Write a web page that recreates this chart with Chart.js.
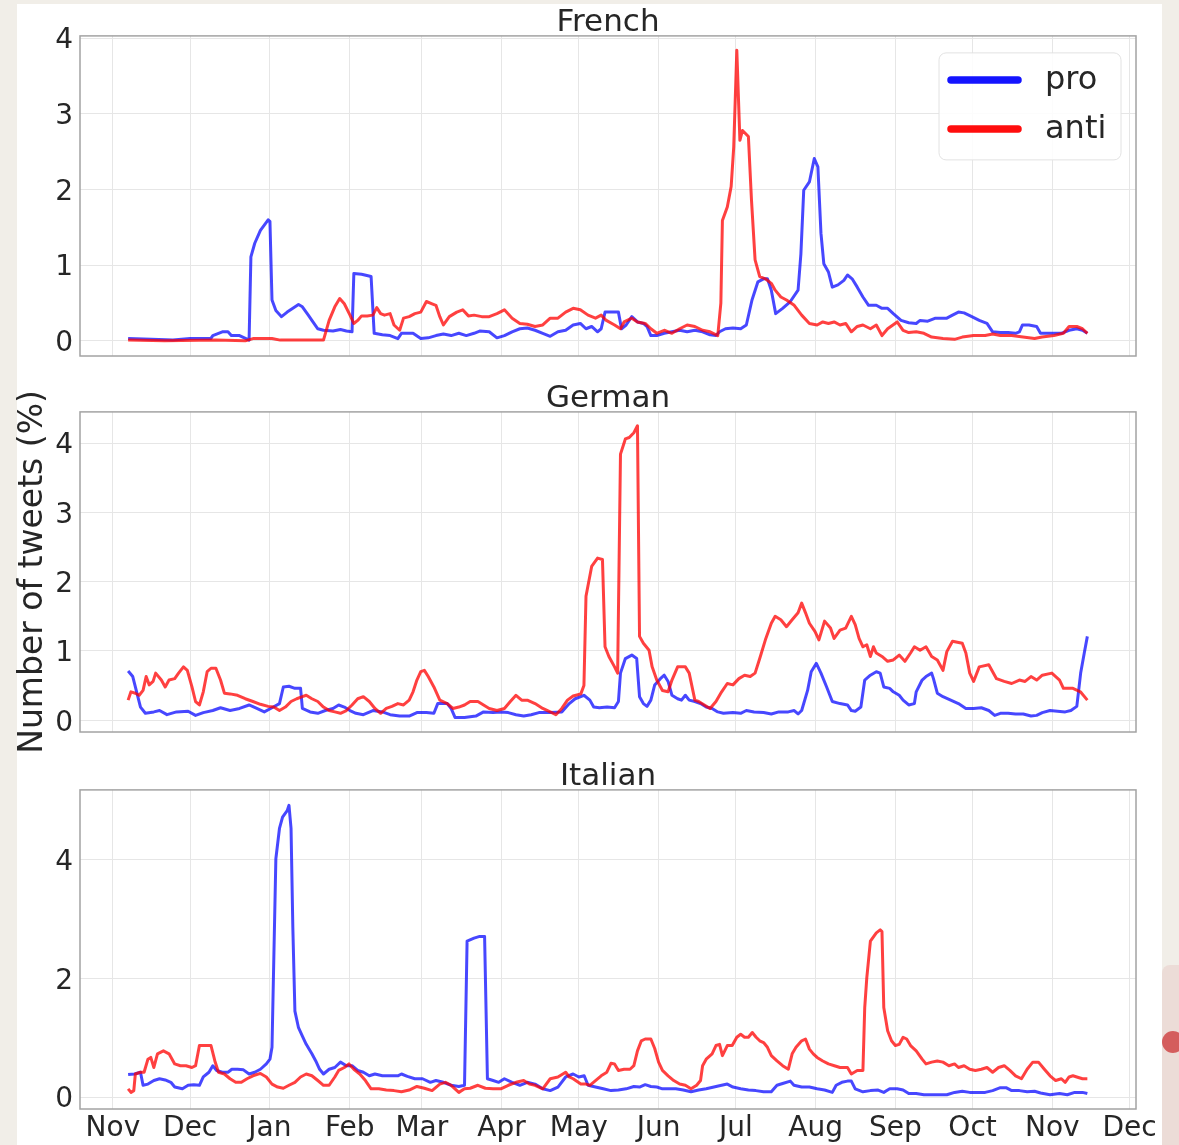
<!DOCTYPE html>
<html>
<head>
<meta charset="utf-8">
<script src="https://cdn.jsdelivr.net/npm/chart.js@4.4.1/dist/chart.umd.min.js"></script>
<style>
html,body{margin:0;padding:0;background:#f1eee8;}
#page{position:relative;width:1179px;height:1145px;overflow:hidden;background:#f1eee8;}
#panel{position:absolute;left:17px;top:4px;width:1145px;height:1141px;background:#ffffff;}
#deco{position:absolute;left:1162px;top:965px;width:17px;height:180px;background:#ecdcd7;border-top-left-radius:8px;}
#dot{position:absolute;left:1162px;top:1031px;width:22px;height:22px;border-radius:50%;background:#d45d5d;}
canvas{position:absolute;left:0;}
</style>
</head>
<body>
<div id="page">
  <div id="panel"></div>
  <div id="deco"></div>
  <div id="dot"></div>
  <canvas id="cFrench" width="1179" height="380" style="top:0px"></canvas>
  <canvas id="cGerman" width="1179" height="380" style="top:376px"></canvas>
  <canvas id="cItalian" width="1179" height="391" style="top:754px"></canvas>
</div>
<script>
// ---------------- DATA ----------------
// x values: days since 2020-11-01
const monthLabels = ['Nov','Dec','Jan','Feb','Mar','Apr','May','Jun','Jul','Aug','Sep','Oct','Nov','Dec'];
const monthStartDays = [0,30,61,92,120,151,181,212,242,273,304,334,365,395];
const seriesLabels = ['pro','anti'];
const panelTitles = ['French','German','Italian'];
const yAxisLabel = 'Number of tweets (%)';
const frenchTicks = [0,1,2,3,4];
const germanTicks = [0,1,2,3,4];
const italianTicks = [0,2,4];

const frenchPro = [[5.9,0.03],[15,0.02],[23.3,0.01],[30,0.03],[38,0.03],[38.8,0.07],[42.5,0.12],[44.7,0.12],[46,0.07],[49.2,0.07],[52.9,0.01],[53.6,1.11],[55.1,1.29],[57.3,1.46],[60.3,1.6],[61,1.58],[61.8,0.54],[63.3,0.4],[65.5,0.32],[67.7,0.38],[69.9,0.43],[72.1,0.48],[73.6,0.45],[75.9,0.34],[77.3,0.27],[79.6,0.16],[81.8,0.14],[85.5,0.13],[88.4,0.15],[90.7,0.13],[92.9,0.12],[93.6,0.89],[96.6,0.88],[100.3,0.85],[101.5,0.1],[104.7,0.08],[107.7,0.07],[110.7,0.03],[112.1,0.1],[116.6,0.1],[119.6,0.03],[122.5,0.04],[125.5,0.07],[128.4,0.09],[131.4,0.07],[134.4,0.1],[137.3,0.07],[140.3,0.1],[142.5,0.13],[146.2,0.12],[149.2,0.04],[152.1,0.07],[155.1,0.12],[158.1,0.16],[161,0.17],[164,0.14],[167,0.1],[169.9,0.06],[172.9,0.12],[175.9,0.14],[178.8,0.21],[181.6,0.23],[183.8,0.16],[186,0.19],[188.3,0.12],[189.7,0.16],[191.2,0.38],[196.4,0.38],[197.6,0.16],[199.4,0.21],[201.6,0.32],[203.8,0.25],[206.1,0.23],[207.5,0.19],[209,0.07],[211.3,0.07],[214.2,0.1],[217.2,0.12],[220.2,0.14],[223.1,0.12],[226.1,0.14],[229.1,0.12],[232,0.08],[234.3,0.07],[235.7,0.12],[238,0.16],[240.9,0.17],[243.9,0.16],[246.1,0.21],[248.3,0.54],[250.6,0.78],[252.8,0.82],[254.3,0.82],[255.8,0.67],[257.5,0.36],[260.2,0.43],[263.2,0.52],[266.2,0.67],[267.3,1.15],[268.4,1.99],[270.6,2.1],[272.5,2.41],[273.9,2.3],[275.1,1.42],[276.2,1.02],[278,0.91],[279.5,0.71],[281.7,0.74],[284,0.8],[285.4,0.87],[287.2,0.82],[289.2,0.71],[291.4,0.58],[293.6,0.47],[296.6,0.47],[298.8,0.43],[301,0.43],[303.2,0.36],[306.2,0.27],[309.2,0.24],[312.1,0.23],[313.6,0.27],[316.6,0.26],[319.6,0.3],[324,0.3],[326.2,0.34],[328.5,0.38],[330.7,0.37],[333.7,0.32],[336.6,0.27],[339.6,0.23],[341.8,0.12],[344.8,0.11],[347.8,0.11],[350.7,0.1],[352.2,0.12],[353.4,0.21],[355.9,0.21],[358.9,0.19],[360.4,0.1],[364.1,0.1],[368.5,0.1],[371.5,0.14],[374.5,0.16],[376.7,0.14],[378.6,0.1]];

const frenchAnti = [[5.9,0.01],[20,0.0],[40,0.01],[51.4,0.0],[54.4,0.03],[61.8,0.03],[65,0.01],[81.8,0.01],[84,0.27],[86.2,0.45],[88.1,0.56],[89.9,0.49],[92.1,0.34],[93.6,0.23],[95.1,0.27],[96.6,0.33],[98.8,0.33],[101,0.34],[102.5,0.44],[104,0.36],[105.5,0.34],[107.7,0.36],[109.2,0.21],[111.4,0.14],[112.9,0.3],[115.1,0.32],[117.3,0.36],[119.6,0.38],[121.8,0.52],[124,0.49],[125.5,0.47],[127,0.32],[128.4,0.21],[130.7,0.32],[133.6,0.38],[135.9,0.41],[138.1,0.33],[140.3,0.34],[143.3,0.32],[146.2,0.32],[149.2,0.36],[152.1,0.41],[155.1,0.3],[158.1,0.23],[161,0.22],[164,0.19],[167,0.21],[169.9,0.3],[172.9,0.3],[175.9,0.38],[178.8,0.43],[181.6,0.41],[184.6,0.34],[187.5,0.3],[189.7,0.34],[191.7,0.27],[194.9,0.21],[197.2,0.16],[198.6,0.25],[201.6,0.3],[203.8,0.25],[206.8,0.23],[209,0.16],[211.3,0.1],[214.2,0.14],[217.2,0.1],[220.2,0.16],[223.1,0.21],[226.1,0.19],[229.1,0.14],[232,0.12],[235,0.07],[236.2,0.5],[236.8,1.59],[238.7,1.77],[240.2,2.04],[241.2,2.56],[242.4,3.84],[243.6,2.65],[244.6,2.78],[246.9,2.7],[248.1,1.86],[249.5,1.07],[251.3,0.85],[253.5,0.82],[255.8,0.76],[257.3,0.67],[259.5,0.58],[261.7,0.54],[264.7,0.47],[267.6,0.34],[270.6,0.23],[273.6,0.21],[275.8,0.25],[278,0.23],[280.2,0.25],[282.5,0.21],[284.7,0.23],[286.9,0.12],[289.2,0.19],[291.4,0.21],[294.3,0.16],[296.6,0.21],[298.8,0.07],[301,0.16],[304.7,0.25],[307,0.14],[309.2,0.11],[312.1,0.12],[315.1,0.1],[318.1,0.05],[322.5,0.03],[327,0.02],[330,0.05],[334.4,0.07],[338.9,0.07],[341.8,0.09],[344.8,0.07],[349.2,0.07],[353.6,0.05],[358.1,0.03],[361,0.05],[365.6,0.07],[369.3,0.1],[371.5,0.19],[374.5,0.19],[376.7,0.16],[378.6,0.1]];

const germanPro = [[5.9,0.71],[7.7,0.63],[9.2,0.41],[10.7,0.19],[12.6,0.1],[15.9,0.12],[18.1,0.14],[21,0.08],[24.7,0.12],[29.2,0.13],[32.1,0.07],[35.1,0.11],[38.8,0.14],[41.8,0.18],[45.5,0.14],[49.2,0.17],[52.9,0.22],[55.9,0.17],[58.8,0.12],[61.8,0.18],[64.7,0.24],[66.2,0.48],[68.4,0.49],[70.7,0.46],[72.9,0.46],[73.6,0.17],[76.6,0.12],[79.6,0.1],[82.5,0.14],[85.5,0.17],[87.7,0.22],[89.9,0.19],[92.1,0.14],[94.4,0.1],[97.3,0.08],[101,0.14],[104.7,0.12],[107.7,0.08],[111.4,0.06],[115.1,0.06],[118.1,0.11],[121.8,0.11],[124.7,0.1],[126.2,0.24],[129.9,0.24],[131.4,0.17],[132.9,0.04],[136.6,0.04],[141,0.06],[144,0.12],[147.7,0.11],[150.7,0.12],[153.6,0.11],[156.6,0.08],[159.6,0.06],[162.5,0.08],[165.5,0.11],[169.9,0.11],[174.4,0.12],[177.3,0.24],[179.6,0.31],[183,0.36],[185.3,0.29],[186.8,0.19],[189,0.18],[192,0.19],[194.9,0.18],[196.4,0.27],[197.2,0.68],[199.1,0.89],[201.6,0.94],[203.5,0.89],[204.6,0.34],[206.1,0.24],[207.5,0.2],[209,0.29],[210.5,0.51],[212.7,0.6],[214.2,0.65],[215.7,0.56],[217.2,0.36],[219.4,0.31],[220.9,0.29],[222.4,0.36],[223.9,0.29],[226.1,0.27],[228.3,0.24],[230.5,0.19],[232.8,0.17],[235,0.12],[237.2,0.1],[240.9,0.11],[243.9,0.1],[246.1,0.14],[249.1,0.12],[252.8,0.11],[255.8,0.09],[258.7,0.12],[262.4,0.12],[264.7,0.14],[266.2,0.09],[267.6,0.14],[269.9,0.43],[271.3,0.7],[273.3,0.82],[275.1,0.68],[277.3,0.48],[279.5,0.27],[282.5,0.24],[285.4,0.22],[286.9,0.14],[288.4,0.13],[290.6,0.19],[292.1,0.58],[294.3,0.65],[296.6,0.7],[298.1,0.68],[299.5,0.48],[301.8,0.46],[303.2,0.41],[305.5,0.36],[307,0.29],[309.2,0.22],[311.4,0.24],[312.1,0.41],[314.4,0.58],[315.9,0.63],[318.1,0.68],[318.8,0.6],[320.3,0.39],[322.5,0.34],[325.5,0.29],[328.5,0.24],[331.4,0.17],[334.4,0.17],[337.4,0.18],[340.3,0.14],[342.6,0.07],[344.8,0.1],[347.8,0.1],[350.7,0.09],[353.7,0.09],[356.7,0.06],[358.9,0.07],[361.1,0.11],[364.1,0.14],[367,0.13],[370,0.12],[372.2,0.14],[374.5,0.2],[376,0.68],[377.4,0.97],[378.6,1.21]];

const germanAnti = [[5.9,0.29],[7,0.41],[8.7,0.39],[10.2,0.36],[11.7,0.43],[12.9,0.63],[14.1,0.51],[15.6,0.56],[16.6,0.68],[18.8,0.58],[20.3,0.48],[21.8,0.58],[24,0.6],[25.5,0.68],[27.4,0.77],[28.9,0.72],[30.7,0.48],[32.1,0.27],[33.6,0.22],[35.1,0.41],[36.6,0.7],[38.1,0.75],[40,0.75],[41.8,0.58],[43.3,0.39],[45.5,0.38],[48.4,0.36],[51.4,0.31],[54.4,0.27],[57.3,0.23],[60.3,0.2],[62.5,0.19],[64.7,0.14],[67,0.19],[69.2,0.27],[71.4,0.31],[73.6,0.34],[75.1,0.36],[77.3,0.31],[79.6,0.27],[81.8,0.19],[84,0.14],[86.2,0.12],[88.4,0.1],[90.7,0.14],[92.9,0.22],[95.1,0.31],[97.3,0.34],[99.6,0.27],[101.8,0.17],[104,0.1],[106.2,0.17],[108.4,0.2],[110.7,0.24],[112.9,0.22],[115.1,0.29],[116.6,0.41],[118.1,0.58],[119.6,0.7],[121,0.72],[122.5,0.63],[124.7,0.48],[127,0.29],[129.9,0.24],[132.1,0.17],[134.4,0.19],[136.6,0.22],[138.8,0.27],[141.8,0.27],[144,0.22],[146.2,0.17],[149.2,0.14],[152.1,0.17],[154.4,0.27],[156.6,0.36],[158.8,0.29],[161,0.29],[164,0.24],[167,0.17],[169.9,0.12],[172.1,0.08],[174.4,0.17],[176.6,0.29],[178.8,0.35],[181.8,0.38],[183,0.5],[183.8,1.79],[186,2.22],[188.3,2.34],[190.2,2.32],[191.2,1.06],[192.7,0.92],[194.9,0.77],[196.1,0.68],[197.2,3.84],[199.1,4.06],[200.6,4.08],[202.4,4.15],[203.8,4.25],[204.6,1.21],[206.1,1.11],[208.3,1.01],[209.5,0.77],[211.3,0.58],[213.5,0.43],[215.7,0.41],[217.2,0.58],[219.4,0.77],[222.4,0.77],[223.9,0.68],[226.1,0.29],[227.6,0.27],[229.8,0.22],[232,0.17],[234.3,0.27],[236.5,0.41],[238.7,0.53],[240.9,0.51],[243.2,0.6],[245.4,0.65],[247.6,0.63],[249.5,0.68],[251.3,0.89],[253.5,1.16],[255.8,1.4],[257.3,1.5],[259.5,1.45],[261.7,1.35],[263.9,1.45],[266.2,1.55],[267.6,1.69],[269.1,1.55],[270.6,1.4],[272.8,1.28],[274.3,1.16],[276.5,1.43],[278.8,1.33],[280.2,1.18],[282.5,1.3],[284.7,1.33],[286.9,1.5],[288.4,1.38],[289.9,1.18],[291.4,1.06],[292.9,1.09],[294.3,0.92],[295.5,1.06],[296.6,0.97],[298.8,0.92],[301,0.85],[303.2,0.87],[305.5,0.94],[307.7,0.85],[309.9,0.97],[311.4,1.06],[313.6,1.01],[315.9,1.06],[318.1,0.92],[320.3,0.87],[322.5,0.72],[324,0.99],[326.2,1.14],[330,1.11],[331.4,0.97],[332.9,0.68],[334.4,0.56],[336.6,0.77],[340.3,0.8],[343.3,0.6],[346.3,0.56],[349.2,0.53],[352.2,0.58],[354.4,0.56],[356.7,0.63],[358.9,0.58],[361.1,0.65],[364.8,0.68],[367.8,0.58],[369.3,0.46],[373,0.46],[375.9,0.41],[378.6,0.29]];

const italianPro = [[5.9,0.38],[8.4,0.39],[10.7,0.42],[11.7,0.2],[13.6,0.22],[15.9,0.28],[18.1,0.31],[20.3,0.29],[22.5,0.25],[24,0.17],[27,0.14],[29.2,0.2],[31.4,0.21],[33.6,0.2],[35.1,0.34],[37.3,0.42],[38.8,0.53],[40.3,0.45],[42.5,0.42],[44.7,0.42],[46.2,0.47],[48.4,0.47],[50.7,0.46],[52.9,0.39],[55.1,0.42],[57.3,0.47],[59.6,0.56],[61,0.64],[61.8,0.84],[63.3,4.02],[64.7,4.53],[65.9,4.72],[67.7,4.83],[68.4,4.92],[69.2,4.53],[69.9,2.85],[70.7,1.45],[72.1,1.17],[73.6,1.03],[75.1,0.89],[77.3,0.73],[78.8,0.61],[80.3,0.47],[81.8,0.39],[84,0.47],[86.2,0.5],[88.4,0.59],[90.7,0.53],[92.9,0.53],[95.1,0.45],[97.3,0.42],[99.6,0.36],[101.8,0.39],[104.7,0.36],[107.7,0.36],[110.7,0.36],[112.1,0.39],[114.4,0.35],[117.3,0.31],[120.3,0.31],[123.3,0.25],[125.5,0.28],[128.4,0.25],[131.4,0.2],[134.4,0.18],[136.6,0.2],[137.6,2.63],[140.3,2.68],[142.5,2.71],[144.4,2.71],[145.5,0.31],[147.7,0.28],[149.9,0.25],[152.1,0.31],[155.1,0.25],[158.1,0.2],[161,0.25],[164,0.22],[167,0.14],[169.9,0.11],[172.9,0.17],[175.9,0.34],[178.8,0.39],[181,0.34],[183.1,0.36],[184.6,0.2],[187.5,0.17],[190.5,0.14],[193.5,0.11],[196.4,0.12],[199.4,0.14],[202.4,0.18],[204.6,0.17],[206.8,0.21],[209,0.18],[211.3,0.17],[213.5,0.14],[215.7,0.14],[218.7,0.14],[221.6,0.12],[224.6,0.09],[227.6,0.12],[230.5,0.14],[233.5,0.17],[236.5,0.2],[238.7,0.22],[240.9,0.17],[243.9,0.14],[246.9,0.12],[249.8,0.11],[252.8,0.09],[255.8,0.09],[258,0.2],[260.2,0.23],[263.2,0.27],[264.6,0.2],[267.6,0.17],[270.6,0.17],[273.6,0.14],[276.5,0.12],[279.5,0.08],[281,0.2],[283.2,0.25],[285.4,0.27],[286.9,0.27],[288.4,0.14],[291.4,0.09],[294.3,0.11],[297.3,0.12],[299.5,0.08],[301.8,0.14],[304.7,0.14],[307,0.12],[309.2,0.06],[312.1,0.06],[315.1,0.04],[318.1,0.04],[321.1,0.04],[324,0.04],[327,0.08],[330,0.1],[332.9,0.08],[335.9,0.08],[338.9,0.08],[341.8,0.11],[344.8,0.16],[347,0.16],[349.2,0.11],[352.2,0.11],[355.2,0.09],[358.1,0.1],[360.4,0.07],[364.1,0.04],[367.8,0.06],[370.8,0.04],[373.7,0.08],[376.7,0.08],[378.6,0.06]];

const italianAnti = [[5.9,0.14],[7,0.08],[8.1,0.11],[8.7,0.39],[10.7,0.42],[12.1,0.42],[13.6,0.64],[14.7,0.67],[15.9,0.5],[17.3,0.73],[19.6,0.78],[21.8,0.73],[24,0.56],[26.2,0.53],[28.4,0.53],[30.7,0.5],[32.1,0.53],[33.6,0.87],[35.9,0.87],[38.1,0.87],[39.6,0.61],[41,0.42],[43.3,0.39],[45.5,0.31],[47.7,0.25],[49.9,0.25],[52.1,0.31],[54.4,0.36],[57.3,0.4],[59.6,0.34],[61.8,0.22],[64,0.17],[66.2,0.15],[68.4,0.2],[70.7,0.25],[72.9,0.34],[75.1,0.39],[77.3,0.36],[79.6,0.28],[81.8,0.2],[84,0.2],[86.2,0.34],[87.7,0.45],[89.9,0.5],[91.7,0.56],[93.6,0.47],[95.9,0.39],[98.1,0.28],[100.3,0.14],[103.3,0.14],[106.2,0.12],[109.2,0.11],[112.1,0.09],[115.1,0.12],[118.1,0.18],[121,0.15],[124,0.11],[127,0.22],[129.2,0.25],[131.4,0.2],[134.4,0.08],[136.6,0.14],[138.8,0.15],[141.8,0.2],[144.7,0.15],[147.7,0.14],[150.7,0.14],[153.6,0.2],[156.6,0.25],[159.6,0.28],[161.8,0.22],[164,0.2],[167,0.14],[169.9,0.31],[172.9,0.34],[175.9,0.42],[177.3,0.34],[178.8,0.31],[181.8,0.22],[183.8,0.22],[185.3,0.2],[187.5,0.28],[189.7,0.36],[191.9,0.42],[193.5,0.57],[194.9,0.56],[196.4,0.45],[198.6,0.47],[200.9,0.47],[202.4,0.53],[203.8,0.78],[205.3,0.95],[206.8,0.98],[209,0.98],[210.5,0.82],[212,0.59],[213.5,0.45],[215.7,0.36],[217.9,0.28],[220.2,0.22],[222.4,0.2],[224.6,0.14],[226.8,0.2],[228.3,0.28],[229.1,0.53],[230.5,0.64],[232.8,0.73],[234.3,0.87],[235.7,0.89],[236.8,0.7],[238.7,0.87],[240.6,0.87],[242.4,1.01],[243.9,1.06],[245.4,1.01],[246.9,1.01],[248.4,1.09],[249.9,1.01],[251.3,0.95],[252.8,0.92],[254.3,0.84],[255.8,0.7],[258,0.61],[260.2,0.53],[262.4,0.47],[263.9,0.73],[265.4,0.84],[267.6,0.95],[269.1,0.98],[270.6,0.81],[272.1,0.73],[273.6,0.67],[275.8,0.61],[278,0.56],[280.3,0.53],[282.5,0.5],[285.4,0.5],[286.9,0.39],[289.2,0.45],[291.4,0.45],[292.1,1.51],[292.9,2.01],[294.3,2.63],[296.6,2.77],[298.1,2.82],[298.8,2.79],[299.5,1.51],[301,1.12],[302.5,0.95],[304,0.87],[305.5,0.89],[307,1.01],[308.4,0.98],[309.9,0.87],[312.1,0.78],[314.4,0.64],[315.9,0.56],[318.1,0.59],[320.3,0.61],[322.5,0.59],[324.8,0.53],[327,0.56],[328.5,0.5],[330.7,0.53],[332.9,0.47],[335.1,0.45],[337.4,0.47],[339.6,0.5],[341.8,0.42],[344.1,0.5],[346.3,0.53],[348.5,0.45],[350.7,0.36],[353,0.31],[355.2,0.47],[357.4,0.59],[359.6,0.59],[361.9,0.47],[364.1,0.36],[366.3,0.28],[368.5,0.31],[370,0.25],[371.5,0.34],[373,0.36],[374.5,0.34],[376.7,0.31],[378.6,0.31]];

// ---------------- STYLE ----------------
const textColor = '#262626';
const gridColor = '#e6e6e6';
const frameColor = '#a3a3a3';
const proColor = 'rgba(0,0,255,0.72)';
const antiColor = 'rgba(255,0,0,0.75)';
const proLegendColor = 'rgba(0,0,255,0.92)';
const antiLegendColor = 'rgba(255,0,0,0.95)';
const FONT = "'DejaVu Sans', 'Liberation Sans', sans-serif";

Chart.defaults.font.family = FONT;
Chart.defaults.color = textColor;

function toPoints(pairs) { return pairs.map(p => ({x: p[0], y: p[1]})); }

const framePlugin = {
  id: 'frame',
  afterDatasetsDraw(chart) {
    const {ctx, chartArea: a} = chart;
    ctx.save();
    ctx.strokeStyle = frameColor;
    ctx.lineWidth = 1.5;
    ctx.strokeRect(a.left, a.top, a.right - a.left, a.bottom - a.top);
    ctx.restore();
  }
};

const boxLegendPlugin = {
  id: 'boxLegend',
  afterDraw(chart, args, opts) {
    if (!opts || !opts.show) return;
    const {ctx, chartArea: a} = chart;
    const w = 182, h = 107;
    const x0 = a.right - 15 - w, y0 = a.top + 17;
    ctx.save();
    ctx.beginPath();
    ctx.roundRect(x0, y0, w, h, 7);
    ctx.fillStyle = 'rgba(255,255,255,0.85)';
    ctx.fill();
    ctx.strokeStyle = '#e2e2e2';
    ctx.lineWidth = 1;
    ctx.stroke();
    const colors = [proLegendColor, antiLegendColor];
    chart.data.datasets.forEach((ds, i) => {
      const y = y0 + 27 + i * 49;
      ctx.beginPath();
      ctx.lineCap = 'round';
      ctx.lineWidth = 7.5;
      ctx.strokeStyle = colors[i];
      ctx.moveTo(x0 + 12, y);
      ctx.lineTo(x0 + 79, y);
      ctx.stroke();
      ctx.fillStyle = textColor;
      ctx.font = '32px ' + FONT;
      ctx.textBaseline = 'middle';
      ctx.textAlign = 'left';
      ctx.fillText(ds.label, x0 + 106, y + 1);
    });
    ctx.restore();
  }
};

function makePanel(canvasId, title, pro, anti, yTicks, yMin, yMax, o) {
  return new Chart(document.getElementById(canvasId), {
    type: 'line',
    data: {
      datasets: [
        {label: seriesLabels[0], data: toPoints(pro), borderColor: proColor, backgroundColor: proColor,
         borderWidth: 3, pointRadius: 0, tension: 0, fill: false, borderJoinStyle: 'round', order: 1},
        {label: seriesLabels[1], data: toPoints(anti), borderColor: antiColor, backgroundColor: antiColor,
         borderWidth: 3, pointRadius: 0, tension: 0, fill: false, borderJoinStyle: 'round', order: 0}
      ]
    },
    options: {
      responsive: false,
      animation: false,
      devicePixelRatio: 1,
      events: [],
      layout: {padding: {left: 0, right: 43, top: 0, bottom: 0}},
      plugins: {
        legend: {display: false},
        tooltip: {enabled: false},
        title: {display: true, fullSize: false, text: title, color: textColor,
                font: {size: 31, lineHeight: 0.9, weight: 'normal'},
                padding: {top: 9, bottom: -1}},
        boxLegend: {show: !!o.legend}
      },
      scales: {
        x: {
          type: 'linear', min: -12.8, max: 397.5,
          afterBuildTicks: s => { s.ticks = monthStartDays.map(v => ({value: v})); },
          afterFit: s => { s.height = o.xh; },
          grid: {color: gridColor, lineWidth: 1, drawTicks: false},
          border: {display: false},
          ticks: {display: !!o.showX, autoSkip: false, maxRotation: 0, minRotation: 0, padding: 6,
                  color: textColor, font: {size: 28, lineHeight: 1},
                  callback: (v, i) => monthLabels[i]}
        },
        y: {
          type: 'linear', min: yMin, max: yMax,
          afterBuildTicks: s => { s.ticks = yTicks.map(v => ({value: v})); },
          afterFit: s => { s.width = 80; },
          grid: {color: gridColor, lineWidth: 1, drawTicks: false},
          border: {display: false},
          ticks: {padding: 7, labelOffset: 3, color: textColor, font: {size: 28, lineHeight: 1},
                  callback: v => String(v)},
          title: o.yTitle ? {display: true, text: yAxisLabel, color: textColor,
                             font: {size: 33, lineHeight: 1.2}, padding: {top: 14, bottom: 0}}
                          : {display: false}
        }
      }
    },
    plugins: [framePlugin, boxLegendPlugin]
  });
}

makePanel('cFrench', panelTitles[0], frenchPro, frenchAnti, frenchTicks, -0.2, 4.03, {legend: true, xh: 24});
makePanel('cGerman', panelTitles[1], germanPro, germanAnti, germanTicks, -0.17, 4.45, {yTitle: true, xh: 24});
makePanel('cItalian', panelTitles[2], italianPro, italianAnti, italianTicks, -0.2, 5.18, {showX: true, xh: 36});
</script>
</body>
</html>
